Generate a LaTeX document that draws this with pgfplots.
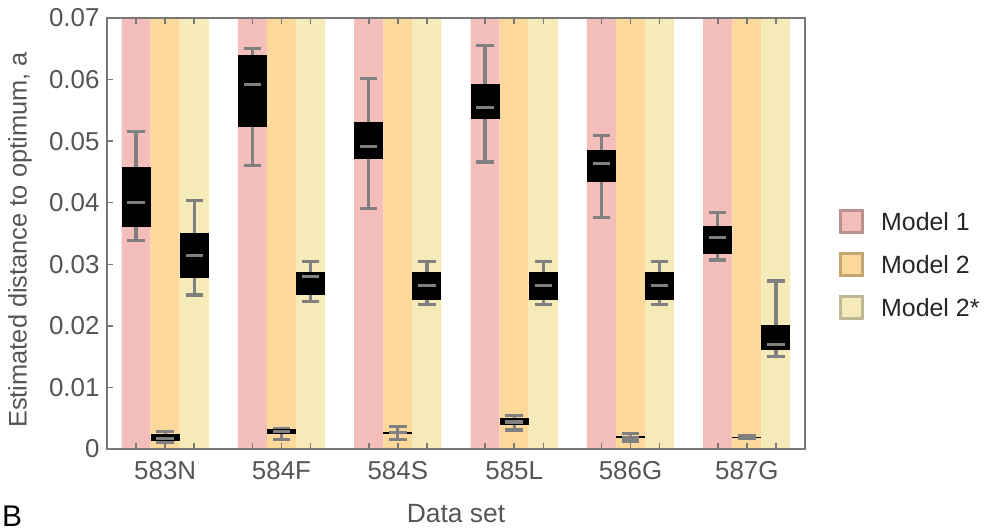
\documentclass[border=0pt]{standalone}
\usepackage{fontspec}
\setmainfont{Liberation Sans}
\usepackage{pgfplots}
\pgfplotsset{compat=1.18}
\usepgfplotslibrary{statistics}
\definecolor{bandA}{RGB}{244,190,186}
\definecolor{bandB}{RGB}{253,216,155}
\definecolor{bandC}{RGB}{247,234,185}
\definecolor{edgeA}{RGB}{185,145,142}
\definecolor{edgeB}{RGB}{196,166,114}
\definecolor{edgeC}{RGB}{190,184,150}
\definecolor{wgray}{RGB}{128,128,128}
\definecolor{txtgray}{RGB}{85,85,85}
\definecolor{framegray}{RGB}{120,120,120}
\newcommand{\bx}[6]{\addplot[forget plot, boxplot prepared={draw position=#1, lower whisker=#2, lower quartile=#3, median=#4, upper quartile=#5, upper whisker=#6}] coordinates {};}
\begin{document}
\begin{tikzpicture}
\useasboundingbox (-107bp,-82bp) rectangle (880bp,449bp);
\begin{axis}[
  width=698bp, height=431bp, scale only axis,
  xmin=-1, xmax=23, ymin=0, ymax=0.07,
  scaled y ticks=false,
  axis on top,
  axis line style={framegray, line width=2bp},
  tick style={framegray, line width=1.5bp},
  major tick length=6bp,
  tick align=inside,
  xtick={0,1,2,4,5,6,8,9,10,12,13,14,16,17,18,20,21,22},
  xticklabels={,583N,,,584F,,,584S,,,585L,,,586G,,,587G,},
  ytick={0,0.01,0.02,0.03,0.04,0.05,0.06,0.07},
  yticklabels={0,0.01,0.02,0.03,0.04,0.05,0.06,0.07},
  ytick pos=left,
  xtick pos=both, xticklabel pos=bottom,
  ticklabel style={font=\fontsize{26}{30}\selectfont, text=txtgray},
  xticklabel style={yshift=-9bp},
  yticklabel style={xshift=-4bp},
  xlabel={Data set}, ylabel={Estimated distance to optimum, a},
  label style={text=txtgray},
  xlabel style={font=\fontsize{26.5}{30}\selectfont, at={(axis description cs:0.5,-0.150)}, anchor=center},
  ylabel style={font=\fontsize{25.5}{30}\selectfont, at={(axis description cs:-0.1246,0.485)}, anchor=center},
  boxplot/draw direction=y,
  boxplot/box extend=1, boxplot/whisker extend=0.6,
  boxplot/every box/.style={fill=black, draw=none},
  boxplot/every whisker/.style={draw=wgray, line width=3.2bp},
  boxplot/every median/.style={draw=wgray, line width=3.2bp},
  boxplot/draw/median/.code={\draw[/pgfplots/boxplot/every median/.try] (boxplot box cs:\pgfplotsboxplotvalue{median},0.2) -- (boxplot box cs:\pgfplotsboxplotvalue{median},0.8);},
  legend style={at={(axis description cs:1.0487,0.427)}, anchor=west, draw=none, fill=none,
    font=\fontsize{25}{30}\selectfont, text=black!85, row sep=18bp, inner sep=0pt,
    nodes={inner xsep=0pt, inner ysep=0pt},
    /tikz/every odd column/.append style={column sep=17bp}},
  legend cell align=left,
]
\addplot[fill=bandA, draw=none,
  legend image code/.code={\draw[fill=bandA, draw=edgeA, line width=3bp] (0bp,-11bp) rectangle (22bp,11bp);}]
  coordinates {(-0.5,0) (-0.5,0.07) (0.5,0.07) (0.5,0) (3.5,0) (3.5,0.07) (4.5,0.07) (4.5,0)
  (7.5,0) (7.5,0.07) (8.5,0.07) (8.5,0) (11.5,0) (11.5,0.07) (12.5,0.07) (12.5,0)
  (15.5,0) (15.5,0.07) (16.5,0.07) (16.5,0) (19.5,0) (19.5,0.07) (20.5,0.07) (20.5,0)} -- cycle;
\addplot[fill=bandB, draw=none,
  legend image code/.code={\draw[fill=bandB, draw=edgeB, line width=3bp] (0bp,-11bp) rectangle (22bp,11bp);}]
  coordinates {(0.5,0) (0.5,0.07) (1.5,0.07) (1.5,0) (4.5,0) (4.5,0.07) (5.5,0.07) (5.5,0)
  (8.5,0) (8.5,0.07) (9.5,0.07) (9.5,0) (12.5,0) (12.5,0.07) (13.5,0.07) (13.5,0)
  (16.5,0) (16.5,0.07) (17.5,0.07) (17.5,0) (20.5,0) (20.5,0.07) (21.5,0.07) (21.5,0)} -- cycle;
\addplot[fill=bandC, draw=none,
  legend image code/.code={\draw[fill=bandC, draw=edgeC, line width=3bp] (0bp,-11bp) rectangle (22bp,11bp);}]
  coordinates {(1.5,0) (1.5,0.07) (2.5,0.07) (2.5,0) (5.5,0) (5.5,0.07) (6.5,0.07) (6.5,0)
  (9.5,0) (9.5,0.07) (10.5,0.07) (10.5,0) (13.5,0) (13.5,0.07) (14.5,0.07) (14.5,0)
  (17.5,0) (17.5,0.07) (18.5,0.07) (18.5,0) (21.5,0) (21.5,0.07) (22.5,0.07) (22.5,0)} -- cycle;
\legend{Model 1, Model 2, Model 2*}
% 583N
\bx{0}{0.0338}{0.0361}{0.0401}{0.0458}{0.0516}
\bx{1}{0.0011}{0.0013}{0.0017}{0.0024}{0.0029}
\bx{2}{0.0250}{0.0278}{0.0314}{0.0351}{0.0404}
% 584F
\bx{4}{0.0461}{0.0523}{0.0592}{0.0640}{0.0651}
\bx{5}{0.0016}{0.0024}{0.0029}{0.0032}{0.0033}
\bx{6}{0.0239}{0.0250}{0.0280}{0.0287}{0.0304}
% 584S
\bx{8}{0.0390}{0.0471}{0.0491}{0.0531}{0.0602}
\bx{9}{0.0016}{0.0025}{0.00265}{0.0028}{0.0036}
\bx{10}{0.0235}{0.0242}{0.0266}{0.0287}{0.0304}
% 585L
\bx{12}{0.0466}{0.0536}{0.0554}{0.0593}{0.0655}
\bx{13}{0.0031}{0.0039}{0.0044}{0.0051}{0.0055}
\bx{14}{0.0235}{0.0242}{0.0266}{0.0287}{0.0304}
% 586G
\bx{16}{0.0376}{0.0434}{0.0464}{0.0486}{0.0509}
\bx{17}{0.0013}{0.0018}{0.0019}{0.0021}{0.0025}
\bx{18}{0.0235}{0.0242}{0.0266}{0.0287}{0.0304}
% 587G
\bx{20}{0.0307}{0.0316}{0.0344}{0.0362}{0.0384}
\bx{21}{0.0017}{0.0018}{0.0019}{0.0020}{0.0022}
\bx{22}{0.0150}{0.0161}{0.0170}{0.0201}{0.0273}
\end{axis}
\node[font=\fontsize{30}{34}\selectfont, text=black] at (-95bp,-67bp) {B};
\end{tikzpicture}
\end{document}
